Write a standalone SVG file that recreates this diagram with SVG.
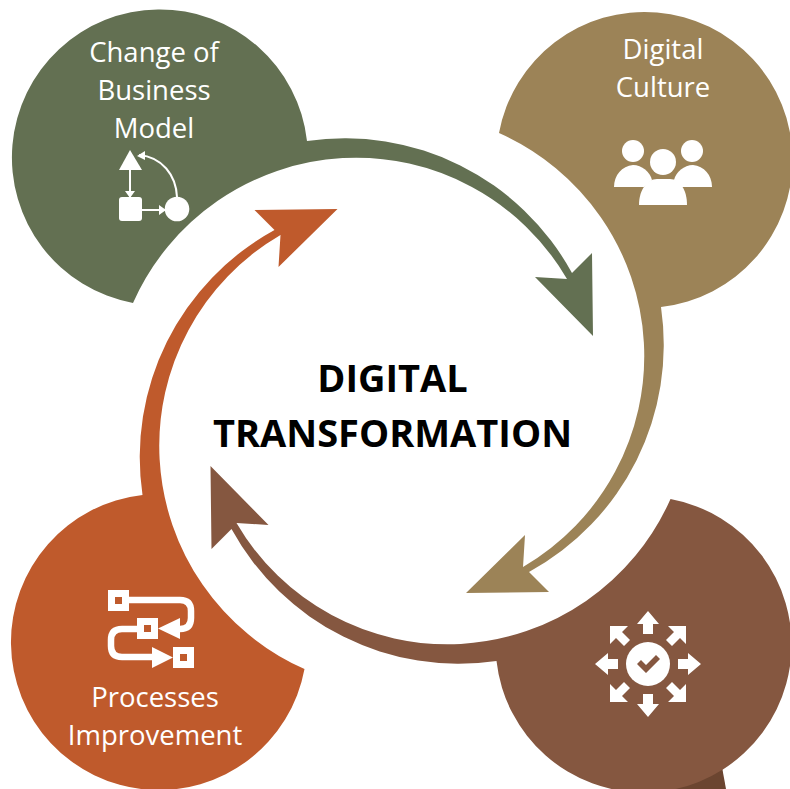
<svg xmlns="http://www.w3.org/2000/svg" xmlns:xlink="http://www.w3.org/1999/xlink" width="790" height="789" viewBox="0 0 790 789">
<style>
.t{font-family:"Open Sans","Noto Sans","Liberation Sans",sans-serif;font-size:27.5px;fill:#fff;text-anchor:middle}
.h{font-family:"Open Sans","Noto Sans","Liberation Sans",sans-serif;font-size:38px;font-weight:700;fill:#000;text-anchor:middle}
.w{fill:#fff}
.l{fill:none;stroke:#fff}
</style>
<defs>
<path id="seg" d="M133,303 A148,148 0 1 1 307,141 A259,259 0 0 1 572,273 L592,253 L593,336 L535,277 L567,279 A244,244 0 0 0 133,303Z"/>
</defs>
<rect width="790" height="789" fill="#fff"/>
<g id="connectors">
<path id="tail-shadow" fill="#6B4530" d="M722,767 L726,789 L655,789 L690,770Z"/>
<use id="arrow-green" xlink:href="#seg" href="#seg" fill="#637052"/>
<use id="arrow-tan" xlink:href="#seg" href="#seg" fill="#9C8357" transform="rotate(90 401 401)"/>
<use id="arrow-brown" xlink:href="#seg" href="#seg" fill="#855740" transform="translate(1.5 0) rotate(180 401 401)"/>
<use id="arrow-orange" xlink:href="#seg" href="#seg" fill="#BF5A2C" transform="translate(1.5 0) rotate(270 401 401)"/>
</g>
<g id="node-business-model">
<text class="t" x="154" y="62">Change of</text>
<text class="t" x="154" y="100">Business</text>
<text class="t" x="154" y="138">Model</text>
<path class="w" d="M130,150 L142,170 L119,170Z"/>
<rect class="w" x="119" y="197" width="23" height="24" rx="3"/>
<circle class="w" cx="177" cy="209" r="12.3"/>
<path class="l" stroke-width="2" d="M130,170 V197 M142,210 H165 M177,197 C176,175 162,157 139,155"/>
<path class="w" d="M125,191 H135 L130,198Z M159,205 L166,210 L159,215Z M137,156 L145,151 L145,160Z"/>
</g>
<g id="node-digital-culture">
<text class="t" x="663" y="59">Digital</text>
<text class="t" x="663" y="97">Culture</text>
<g class="w">
<circle cx="633" cy="151" r="11"/>
<circle cx="692" cy="151" r="11"/>
<circle cx="663" cy="162" r="13"/>
<path d="M614,187 C614,175 622,166 633,165 C642,165 650,172 652,180 L644,187Z"/>
<path d="M712,187 C712,175 704,166 693,165 C684,165 676,172 674,180 L682,187Z"/>
<path d="M639,205 C639,190 647,179 657,179 H670 C680,179 687,190 687,205Z"/>
</g>
</g>
<g id="node-center">
<text class="h" x="392.5" y="392">DIGITAL</text>
<text class="h" x="392.5" y="447">TRANSFORMATION</text>
</g>
<g id="node-impact" class="w">
<circle cx="648" cy="664" r="22"/>
<path fill="#855740" d="M637,664 L641,660 L646,665 L656,655 L660,659 L646,673Z"/>
<path d="M648,611 L659,624 H653 V634 H643 V624 H637Z"/>
<path d="M648,717 L659,704 H653 V694 H643 V704 H637Z"/>
<path d="M595,664 L608,653 V659 H618 V669 H608 V675Z"/>
<path d="M701,664 L688,653 V659 H678 V669 H688 V675Z"/>
<path d="M610,626 H628 L622,632 L630,640 L624,646 L616,638 L610,644Z"/>
<path d="M686,626 H668 L674,632 L666,640 L672,646 L680,638 L686,644Z"/>
<path d="M610,702 H628 L622,696 L630,688 L624,682 L616,690 L610,684Z"/>
<path d="M686,702 H668 L674,696 L666,688 L672,682 L680,690 L686,684Z"/>
</g>
<g id="node-processes">
<path class="l" stroke-width="6.5" d="M128,600 H180 Q191,600 191,611 V618 Q191,629 180,629 H170"/>
<path class="l" stroke-width="6.5" d="M137,629 H122 Q111,629 111,640 V646 Q111,657 122,657 H155"/>
<path class="w" d="M158,628.5 L180,618 V639Z M152,647 L173,657.5 L152,668Z"/>
<path class="w" fill-rule="evenodd" d="M108,590 H129 V611 H108Z M115,597 V604 H122 V597Z"/>
<path class="w" fill-rule="evenodd" d="M137,618 H158 V639 H137Z M144,625 V632 H151 V625Z"/>
<path class="w" fill-rule="evenodd" d="M173,647 H194 V668 H173Z M180,654 V661 H187 V654Z"/>
<text class="t" x="155" y="707">Processes</text>
<text class="t" x="155" y="745">Improvement</text>
</g>
</svg>
